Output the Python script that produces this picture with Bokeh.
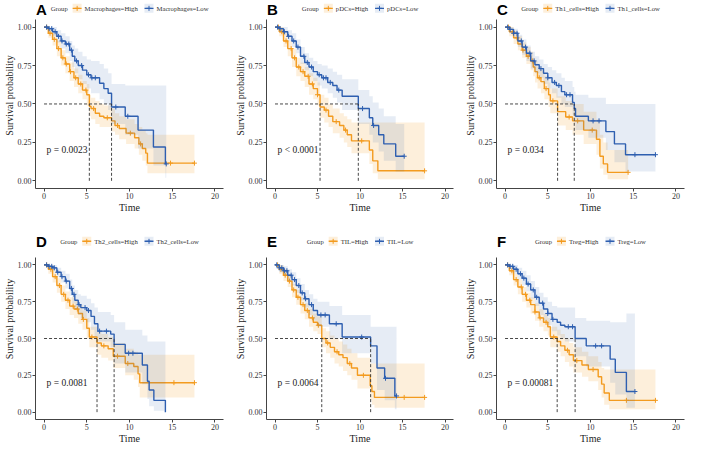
import numpy as np
from bokeh.plotting import figure
from bokeh.layouts import row, column
from bokeh.models import Range1d, FixedTicker, NumeralTickFormatter
from bokeh.embed import file_html
from bokeh.resources import INLINE

# ---------------- data ----------------
LETTERS = ["A", "B", "C", "D", "E", "F"]
GROUPS = ["Macrophages", "pDCs", "Th1_cells", "Th2_cells", "TIL", "Treg"]
P_TEXT = ["p = 0.0023", "p < 0.0001", "p = 0.034", "p = 0.0081", "p = 0.0064", "p = 0.00081"]
LEGEND_TITLE = "Group"
Y_TITLE = "Survival probability"
X_TITLE = "Time"
X_TICKS = [0, 5, 10, 15, 20]
Y_TICKS = [0.0, 0.25, 0.5, 0.75, 1.0]

# Panel A
A_HI_T = [0, 0.5, 1.0, 1.5, 2.0, 2.5, 3.0, 3.5, 4.0, 4.5, 5.0, 5.3, 5.5, 6.0, 6.5, 7.0, 7.9, 8.3, 8.8, 9.6, 10.6, 11.1, 11.5, 11.9, 12.1]
A_HI_S = [1.0, 0.96, 0.92, 0.86, 0.80, 0.76, 0.71, 0.67, 0.63, 0.59, 0.56, 0.485, 0.47, 0.44, 0.42, 0.41, 0.39, 0.36, 0.34, 0.31, 0.28, 0.24, 0.21, 0.18, 0.115]
A_HI_LO = [1.0, 0.93, 0.88, 0.81, 0.75, 0.70, 0.65, 0.61, 0.57, 0.53, 0.49, 0.42, 0.40, 0.37, 0.35, 0.35, 0.32, 0.30, 0.27, 0.24, 0.21, 0.17, 0.13, 0.10, 0.05]
A_HI_UP = [1.0, 0.99, 0.96, 0.91, 0.85, 0.81, 0.77, 0.73, 0.69, 0.65, 0.63, 0.56, 0.54, 0.52, 0.50, 0.49, 0.47, 0.44, 0.42, 0.40, 0.37, 0.35, 0.33, 0.31, 0.30]
A_HI_END = 17.6
A_HI_C = [0.3, 0.7, 1.2, 1.7, 2.2, 2.6, 3.1, 3.7, 4.3, 4.9, 5.8, 7.4, 8.6, 10.1, 11.3, 14.8, 17.6]
A_LO_T = [0, 0.5, 1.0, 1.5, 2.0, 2.5, 3.0, 3.3, 3.6, 4.0, 4.5, 5.0, 5.5, 6.5, 7.0, 7.5, 7.9, 9.5, 11.0, 12.8, 14.2]
A_LO_S = [1.0, 0.99, 0.97, 0.94, 0.91, 0.89, 0.85, 0.81, 0.78, 0.75, 0.72, 0.69, 0.67, 0.635, 0.60, 0.57, 0.48, 0.42, 0.33, 0.22, 0.11]
A_LO_LO = [1.0, 0.97, 0.94, 0.90, 0.86, 0.83, 0.78, 0.74, 0.70, 0.66, 0.63, 0.60, 0.57, 0.53, 0.50, 0.46, 0.37, 0.30, 0.21, 0.10, 0.02]
A_LO_UP = [1.0, 1.0, 1.0, 0.98, 0.96, 0.94, 0.91, 0.88, 0.86, 0.84, 0.81, 0.79, 0.78, 0.76, 0.73, 0.70, 0.63, 0.62, 0.62, 0.62, 0.62]
A_LO_END = 14.3
A_LO_C = [0.3, 0.6, 0.9, 1.3, 1.7, 2.1, 2.6, 2.9, 3.2, 3.8, 4.4, 5.2, 5.6, 6.0, 8.4, 9.8, 14.3]

# Panel B
B_HI_T = [0, 0.5, 1.0, 1.5, 2.0, 2.5, 3.0, 3.5, 4.0, 4.5, 5.0, 5.3, 5.8, 6.3, 6.8, 7.6, 8.1, 8.5, 9.0, 11.1, 11.5, 12.1]
B_HI_S = [1.0, 0.97, 0.91, 0.86, 0.80, 0.74, 0.71, 0.68, 0.63, 0.60, 0.56, 0.48, 0.46, 0.42, 0.385, 0.36, 0.33, 0.30, 0.26, 0.20, 0.13, 0.065]
B_HI_LO = [1.0, 0.94, 0.87, 0.81, 0.74, 0.68, 0.65, 0.61, 0.56, 0.53, 0.49, 0.41, 0.38, 0.35, 0.31, 0.28, 0.25, 0.22, 0.18, 0.11, 0.05, 0.01]
B_HI_UP = [1.0, 1.0, 0.96, 0.91, 0.86, 0.80, 0.77, 0.74, 0.70, 0.67, 0.64, 0.56, 0.54, 0.50, 0.47, 0.44, 0.42, 0.40, 0.38, 0.38, 0.38, 0.38]
B_HI_END = 17.6
B_HI_C = [0.4, 0.8, 1.3, 1.9, 2.3, 2.8, 3.3, 3.9, 4.4, 5.0, 6.0, 7.2, 8.3, 10.2, 17.6]
B_LO_T = [0, 0.5, 1.0, 1.5, 2.0, 2.5, 3.0, 3.5, 4.0, 4.5, 5.0, 5.5, 6.2, 6.8, 7.3, 7.9, 9.8, 11.1, 11.5, 12.2, 12.8, 14.2]
B_LO_S = [1.0, 0.99, 0.97, 0.94, 0.91, 0.87, 0.81, 0.77, 0.74, 0.71, 0.69, 0.67, 0.64, 0.62, 0.59, 0.55, 0.47, 0.41, 0.36, 0.30, 0.24, 0.16]
B_LO_LO = [1.0, 0.97, 0.95, 0.91, 0.87, 0.83, 0.76, 0.72, 0.68, 0.65, 0.62, 0.60, 0.57, 0.54, 0.51, 0.46, 0.37, 0.30, 0.25, 0.19, 0.13, 0.06]
B_LO_UP = [1.0, 1.0, 1.0, 0.98, 0.96, 0.92, 0.87, 0.83, 0.80, 0.78, 0.76, 0.75, 0.73, 0.71, 0.69, 0.66, 0.59, 0.55, 0.51, 0.47, 0.42, 0.37]
B_LO_END = 15.2
B_LO_C = [0.3, 0.6, 1.1, 1.6, 2.2, 2.7, 3.4, 3.8, 4.3, 5.2, 5.7, 6.0, 6.5, 7.5, 10.3, 11.6, 15.2]

# Panel C
C_HI_T = [0, 0.5, 1.0, 1.5, 2.0, 2.5, 3.0, 3.3, 3.5, 3.8, 4.2, 4.6, 5.1, 5.3, 6.15, 7.1, 7.9, 9.2, 10.7, 11.1, 11.5, 12.0]
C_HI_S = [1.0, 0.97, 0.93, 0.89, 0.85, 0.81, 0.78, 0.74, 0.71, 0.67, 0.645, 0.60, 0.56, 0.52, 0.45, 0.415, 0.39, 0.33, 0.27, 0.16, 0.11, 0.055]
C_HI_LO = [1.0, 0.94, 0.89, 0.85, 0.80, 0.76, 0.72, 0.68, 0.64, 0.60, 0.57, 0.53, 0.48, 0.44, 0.36, 0.33, 0.30, 0.24, 0.17, 0.08, 0.04, 0.01]
C_HI_UP = [1.0, 1.0, 0.97, 0.94, 0.90, 0.87, 0.84, 0.80, 0.78, 0.74, 0.72, 0.68, 0.64, 0.60, 0.55, 0.52, 0.50, 0.45, 0.40, 0.30, 0.25, 0.20]
C_HI_END = 14.4
C_HI_C = [0.4, 0.9, 1.4, 2.1, 2.7, 3.2, 4.0, 4.8, 5.6, 7.5, 8.5, 10.2, 14.4]
C_LO_T = [0, 0.5, 1.0, 1.5, 2.0, 2.5, 3.0, 3.5, 4.0, 4.5, 5.0, 5.5, 6.0, 6.6, 7.0, 7.9, 8.1, 8.25, 9.75, 11.8, 12.8, 14.1]
C_LO_S = [1.0, 0.985, 0.96, 0.91, 0.87, 0.83, 0.78, 0.755, 0.73, 0.70, 0.67, 0.64, 0.62, 0.58, 0.56, 0.51, 0.47, 0.42, 0.39, 0.32, 0.24, 0.17]
C_LO_LO = [1.0, 0.96, 0.93, 0.87, 0.82, 0.78, 0.73, 0.70, 0.67, 0.63, 0.60, 0.57, 0.54, 0.50, 0.48, 0.43, 0.38, 0.33, 0.28, 0.20, 0.12, 0.06]
C_LO_UP = [1.0, 1.0, 0.99, 0.95, 0.92, 0.88, 0.84, 0.81, 0.79, 0.76, 0.74, 0.72, 0.70, 0.67, 0.65, 0.61, 0.58, 0.56, 0.54, 0.50, 0.50, 0.50]
C_LO_END = 17.6
C_LO_C = [0.3, 0.6, 1.0, 1.4, 1.9, 2.4, 2.9, 3.4, 4.2, 5.0, 5.8, 6.3, 7.2, 7.6, 10.3, 11.0, 15.2, 17.6]

# Panel D
D_HI_T = [0, 0.5, 1.0, 1.5, 2.0, 2.5, 3.0, 3.5, 4.0, 4.5, 5.0, 5.3, 6.2, 6.7, 7.5, 8.1, 9.5, 10.5, 11.0, 11.2]
D_HI_S = [1.0, 0.97, 0.92, 0.86, 0.80, 0.76, 0.72, 0.70, 0.67, 0.63, 0.57, 0.51, 0.47, 0.45, 0.43, 0.38, 0.33, 0.31, 0.26, 0.20]
D_HI_LO = [1.0, 0.94, 0.88, 0.81, 0.75, 0.70, 0.66, 0.64, 0.60, 0.56, 0.50, 0.44, 0.39, 0.37, 0.35, 0.30, 0.25, 0.22, 0.17, 0.10]
D_HI_UP = [1.0, 1.0, 0.96, 0.91, 0.86, 0.82, 0.78, 0.76, 0.73, 0.69, 0.64, 0.58, 0.55, 0.53, 0.51, 0.47, 0.43, 0.41, 0.39, 0.39]
D_HI_END = 17.6
D_HI_C = [0.3, 0.8, 1.3, 1.8, 2.3, 2.8, 3.4, 3.9, 4.6, 5.6, 7.0, 8.6, 9.8, 15.2, 17.6]
D_LO_T = [0, 0.5, 1.0, 1.5, 2.0, 2.5, 3.0, 3.3, 3.6, 4.0, 4.3, 5.0, 5.5, 5.9, 6.3, 7.8, 8.2, 9.5, 11.5, 12.1, 12.3, 12.85, 14.2]
D_LO_S = [1.0, 0.99, 0.98, 0.95, 0.92, 0.89, 0.84, 0.80, 0.76, 0.73, 0.71, 0.69, 0.65, 0.60, 0.55, 0.53, 0.46, 0.40, 0.32, 0.21, 0.15, 0.08, 0.0]
D_LO_LO = [1.0, 0.97, 0.96, 0.92, 0.88, 0.84, 0.79, 0.74, 0.70, 0.66, 0.64, 0.61, 0.56, 0.51, 0.48, 0.44, 0.33, 0.27, 0.19, 0.09, 0.04, 0.01, 0.0]
D_LO_UP = [1.0, 1.0, 1.0, 0.98, 0.96, 0.94, 0.90, 0.86, 0.83, 0.80, 0.79, 0.77, 0.74, 0.71, 0.68, 0.66, 0.61, 0.56, 0.52, 0.48, 0.48, 0.48, 0.48]
D_LO_END = 14.2
D_LO_C = [0.3, 0.6, 0.9, 1.2, 1.6, 2.1, 2.6, 3.2, 3.5, 4.1, 4.8, 5.2, 6.5, 7.3, 9.9, 10.4]

# Panel E
E_HI_T = [0, 0.5, 1.0, 1.5, 2.0, 2.5, 3.0, 3.5, 4.0, 4.5, 5.0, 5.5, 6.0, 6.5, 7.0, 7.5, 8.0, 8.5, 9.0, 9.7, 11.2, 11.4, 11.7]
E_HI_S = [1.0, 0.97, 0.93, 0.89, 0.83, 0.78, 0.73, 0.69, 0.64, 0.61, 0.59, 0.50, 0.47, 0.44, 0.41, 0.39, 0.37, 0.33, 0.30, 0.25, 0.18, 0.14, 0.10]
E_HI_LO = [1.0, 0.94, 0.89, 0.85, 0.78, 0.73, 0.67, 0.63, 0.58, 0.55, 0.53, 0.44, 0.40, 0.37, 0.33, 0.31, 0.28, 0.25, 0.22, 0.16, 0.08, 0.05, 0.03]
E_HI_UP = [1.0, 1.0, 0.97, 0.93, 0.87, 0.83, 0.78, 0.74, 0.70, 0.67, 0.65, 0.57, 0.55, 0.52, 0.50, 0.48, 0.46, 0.43, 0.40, 0.37, 0.33, 0.33, 0.33]
E_HI_END = 17.6
E_HI_C = [0.3, 0.7, 1.2, 1.7, 2.2, 2.7, 3.3, 3.8, 4.4, 5.1, 6.2, 7.3, 8.8, 10.4, 15.2, 17.6]
E_LO_T = [0, 0.5, 1.0, 1.5, 2.0, 2.5, 3.0, 3.5, 4.0, 4.5, 5.0, 6.4, 7.9, 11.25, 12.0, 12.9, 14.1]
E_LO_S = [1.0, 0.98, 0.96, 0.93, 0.90, 0.86, 0.81, 0.77, 0.73, 0.69, 0.66, 0.60, 0.51, 0.45, 0.30, 0.23, 0.11]
E_LO_LO = [1.0, 0.95, 0.93, 0.89, 0.86, 0.81, 0.76, 0.71, 0.66, 0.62, 0.58, 0.50, 0.40, 0.33, 0.15, 0.08, 0.02]
E_LO_UP = [1.0, 1.0, 0.99, 0.97, 0.95, 0.91, 0.87, 0.83, 0.80, 0.77, 0.75, 0.72, 0.66, 0.58, 0.58, 0.58, 0.58]
E_LO_END = 14.3
E_LO_C = [0.2, 0.5, 0.8, 1.1, 1.4, 1.9, 2.3, 2.8, 3.2, 3.6, 4.3, 5.4, 5.9, 7.2, 10.2, 13.0, 14.3]

# Panel F
F_HI_T = [0, 0.5, 1.0, 1.5, 2.0, 2.5, 3.0, 3.5, 4.0, 4.5, 5.0, 5.3, 6.1, 6.5, 7.0, 7.5, 8.0, 9.0, 9.75, 10.9, 11.3, 11.6, 12.2]
F_HI_S = [1.0, 0.96, 0.90, 0.85, 0.80, 0.76, 0.73, 0.68, 0.64, 0.61, 0.58, 0.51, 0.48, 0.45, 0.42, 0.39, 0.35, 0.32, 0.29, 0.24, 0.19, 0.13, 0.08]
F_HI_LO = [1.0, 0.93, 0.86, 0.80, 0.75, 0.71, 0.67, 0.62, 0.58, 0.55, 0.52, 0.44, 0.41, 0.38, 0.34, 0.31, 0.27, 0.24, 0.21, 0.15, 0.10, 0.05, 0.02]
F_HI_UP = [1.0, 0.99, 0.94, 0.90, 0.85, 0.81, 0.78, 0.74, 0.70, 0.67, 0.64, 0.58, 0.56, 0.53, 0.50, 0.47, 0.44, 0.41, 0.38, 0.34, 0.30, 0.29, 0.29]
F_HI_END = 17.6
F_HI_C = [0.3, 0.8, 1.3, 1.9, 2.4, 2.9, 3.5, 4.1, 4.8, 5.7, 7.3, 8.4, 10.3, 14.2, 17.6]
F_LO_T = [0, 0.5, 1.0, 1.5, 2.0, 2.5, 3.0, 3.5, 4.0, 4.5, 5.0, 5.5, 6.1, 6.5, 7.0, 8.2, 9.5, 12.3, 12.9, 14.2]
F_LO_S = [1.0, 0.99, 0.97, 0.94, 0.91, 0.87, 0.83, 0.78, 0.74, 0.70, 0.67, 0.63, 0.61, 0.59, 0.58, 0.50, 0.45, 0.36, 0.27, 0.14]
F_LO_LO = [1.0, 0.97, 0.94, 0.90, 0.86, 0.82, 0.77, 0.72, 0.66, 0.62, 0.59, 0.55, 0.52, 0.50, 0.48, 0.38, 0.31, 0.20, 0.12, 0.03]
F_LO_UP = [1.0, 1.0, 1.0, 0.98, 0.96, 0.93, 0.89, 0.85, 0.81, 0.78, 0.75, 0.72, 0.71, 0.71, 0.71, 0.64, 0.62, 0.61, 0.61, 0.67]
F_LO_END = 15.2
F_LO_C = [0.3, 0.6, 0.9, 1.3, 1.8, 2.2, 2.7, 3.3, 3.7, 4.4, 5.0, 5.6, 7.4, 7.9, 10.6, 11.3, 15.2]

PANELS = [
    (A_HI_T, A_HI_S, A_HI_LO, A_HI_UP, A_HI_END, A_HI_C, A_LO_T, A_LO_S, A_LO_LO, A_LO_UP, A_LO_END, A_LO_C),
    (B_HI_T, B_HI_S, B_HI_LO, B_HI_UP, B_HI_END, B_HI_C, B_LO_T, B_LO_S, B_LO_LO, B_LO_UP, B_LO_END, B_LO_C),
    (C_HI_T, C_HI_S, C_HI_LO, C_HI_UP, C_HI_END, C_HI_C, C_LO_T, C_LO_S, C_LO_LO, C_LO_UP, C_LO_END, C_LO_C),
    (D_HI_T, D_HI_S, D_HI_LO, D_HI_UP, D_HI_END, D_HI_C, D_LO_T, D_LO_S, D_LO_LO, D_LO_UP, D_LO_END, D_LO_C),
    (E_HI_T, E_HI_S, E_HI_LO, E_HI_UP, E_HI_END, E_HI_C, E_LO_T, E_LO_S, E_LO_LO, E_LO_UP, E_LO_END, E_LO_C),
    (F_HI_T, F_HI_S, F_HI_LO, F_HI_UP, F_HI_END, F_HI_C, F_LO_T, F_LO_S, F_LO_LO, F_LO_UP, F_LO_END, F_LO_C),
]

# ---------------- style / layout ----------------
ORANGE = "#F39B1F"
BLUE = "#2E5FB0"
SERIF = "Liberation Serif"
SANS = "Liberation Sans"
WIDTHS = [231, 230, 231]
HEIGHTS = [216, 231]
BORDER_L, BORDER_R, BORDER_T, BORDER_B = 34, 8, 2, 28
X_LO, X_HI = -1, 21
Y_LO, Y_AXIS_TOP = -0.05, 1.05
Y_TOP = [1.16, 1.315]      # frame top per row (room for the legend)
LEG_Y = [1.122, 1.16]      # legend row height per row
LETTER_Y = [1.115, 1.16]   # panel letter centre per row
LEG_FONT = 6.7
# approximate Times glyph advance widths (per 1000 em) for legend layout
TW = {"G": 722, "r": 333, "o": 500, "u": 500, "p": 500, "M": 889, "a": 444, "c": 444,
      "h": 500, "g": 500, "e": 444, "s": 389, "=": 564, "H": 722, "i": 278, "L": 611,
      "w": 722, "D": 722, "C": 667, "T": 611, "1": 500, "2": 500, "_": 500, "l": 278,
      "I": 333}


def text_px(s, size):
    return sum(TW.get(ch, 500) for ch in s) / 1000.0 * size


def steps(t, v, end):
    xs, ys = [], []
    for i in range(len(t)):
        nxt = t[i + 1] if i + 1 < len(t) else end
        xs += [t[i], nxt]
        ys += [v[i], v[i]]
    return xs, ys


def at(t, s, c):
    idx = np.searchsorted(np.array(t), np.array(c), side="right") - 1
    return [float(v) for v in np.array(s)[idx]]


def median(t, s):
    for ti, si in zip(t, s):
        if si <= 0.5:
            return ti
    return None


def make_panel(k):
    r, col = divmod(k, 3)
    (ht, hs, hlo, hup, hend, hc, lt, ls, llo, lup, lend, lc) = PANELS[k]
    p = figure(width=WIDTHS[col], height=HEIGHTS[r], output_backend="svg",
               toolbar_location=None, x_range=Range1d(X_LO, X_HI),
               y_range=Range1d(Y_LO, Y_TOP[r]),
               min_border_left=BORDER_L, min_border_right=BORDER_R,
               min_border_top=BORDER_T, min_border_bottom=BORDER_B)
    p.outline_line_color = None
    p.grid.visible = False
    p.background_fill_color = "white"
    p.border_fill_color = "white"

    frame_w = WIDTHS[col] - BORDER_L - BORDER_R
    upx = (X_HI - X_LO) / frame_w          # data units per pixel (x)

    series = [(ht, hs, hlo, hup, hend, hc, ORANGE, 0.16, "High"),
              (lt, ls, llo, lup, lend, lc, BLUE, 0.12, "Low")]
    for (t, s, lo, up, end, cens, colr, alpha, name) in series:
        bx, by_lo = steps(t, lo, end)
        _, by_up = steps(t, up, end)
        p.varea(x=bx, y1=by_lo, y2=by_up, fill_color=colr, fill_alpha=alpha)
        sx, sy = steps(t, s, end)
        p.line(sx, sy, line_color=colr, line_width=1.4)
        p.scatter(cens, at(t, s, cens), marker="cross", size=5, line_color=colr, line_width=1)

    # median dashed lines
    meds = [m for m in (median(ht, hs), median(lt, ls)) if m is not None]
    p.line([0, max(meds)], [0.5, 0.5], line_color="#333333", line_dash="3 2", line_width=0.9)
    for m in meds:
        p.line([m, m], [0, 0.5], line_color="#333333", line_dash="3 2", line_width=0.9)

    p.text(x=[0.3], y=[0.2], text=[P_TEXT[k]], text_font_size="9.5px", text_baseline="middle",
           text_font={"value": SERIF}, text_color="#222222")

    # ---- legend row drawn inside the frame, above the y axis ----
    labels = [f"{GROUPS[k]}={name}" for (*_, name) in series]
    key_w, gap_title, gap_key, gap_item = 9, 5, 3, 7
    w_title = text_px(LEGEND_TITLE, LEG_FONT)
    w_labels = [text_px(lb, LEG_FONT) for lb in labels]
    total = w_title + gap_title + gap_item + 2 * (key_w + gap_key) + sum(w_labels)
    cx = (X_LO + X_HI) / 2.0
    xpx = -total / 2.0
    ly = LEG_Y[r]
    p.text(x=[cx + xpx * upx], y=[ly], text=[LEGEND_TITLE], text_font_size=f"{LEG_FONT}px",
           text_baseline="middle", text_align="left", text_font={"value": SERIF},
           text_color="#333333")
    xpx += w_title
    for i, (t, s, lo, up, end, cens, colr, alpha, name) in enumerate(series):
        xpx += gap_title if i == 0 else gap_item
        kx = cx + (xpx + key_w / 2.0) * upx
        p.rect(x=[kx], y=[ly], width=key_w, height=key_w, width_units="screen",
               height_units="screen", fill_color=colr, fill_alpha=alpha, line_color=None)
        p.segment(x0=[kx - key_w / 2.0 * upx], y0=[ly], x1=[kx + key_w / 2.0 * upx], y1=[ly],
                  line_color=colr, line_width=1.4)
        p.scatter([kx], [ly], marker="cross", size=5, line_color=colr, line_width=1)
        xpx += key_w + gap_key
        p.text(x=[cx + xpx * upx], y=[ly], text=[labels[i]], text_font_size=f"{LEG_FONT}px",
               text_baseline="middle", text_align="left", text_font={"value": SERIF},
               text_color="#333333")
        xpx += w_labels[i]

    # panel letter at the top-left corner of the panel
    p.text(x=[X_LO + 0.05], y=[LETTER_Y[r]], text=[LETTERS[k]], text_font={"value": SANS},
           text_font_style="bold", text_font_size="15px", text_baseline="middle",
           text_align="left", text_color="black")

    # ---- axes ----
    p.xaxis.ticker = FixedTicker(ticks=X_TICKS)
    p.yaxis.ticker = FixedTicker(ticks=Y_TICKS)
    p.yaxis.formatter = NumeralTickFormatter(format="0.00")
    p.yaxis.bounds = (Y_LO, Y_AXIS_TOP)
    p.xaxis.axis_label = X_TITLE
    p.yaxis.axis_label = Y_TITLE
    for ax in (p.xaxis, p.yaxis):
        ax.axis_line_color = "#444444"
        ax.axis_line_width = 1
        ax.major_tick_line_color = "#444444"
        ax.major_tick_out = 3
        ax.major_tick_in = 0
        ax.minor_tick_line_color = None
        ax.major_label_text_font = SERIF
        ax.major_label_text_font_size = "8px"
        ax.major_label_text_color = "#333333"
        ax.major_label_standoff = 1
        ax.axis_label_text_font = SERIF
        ax.axis_label_text_font_size = "10px"
        ax.axis_label_text_font_style = "normal"
        ax.axis_label_text_color = "#222222"
        ax.axis_label_standoff = 0
    return p


figs = [make_panel(k) for k in range(6)]
root = column(row(*figs[0:3]), row(*figs[3:6]))
open("out.html", "w").write(file_html(root, INLINE))
